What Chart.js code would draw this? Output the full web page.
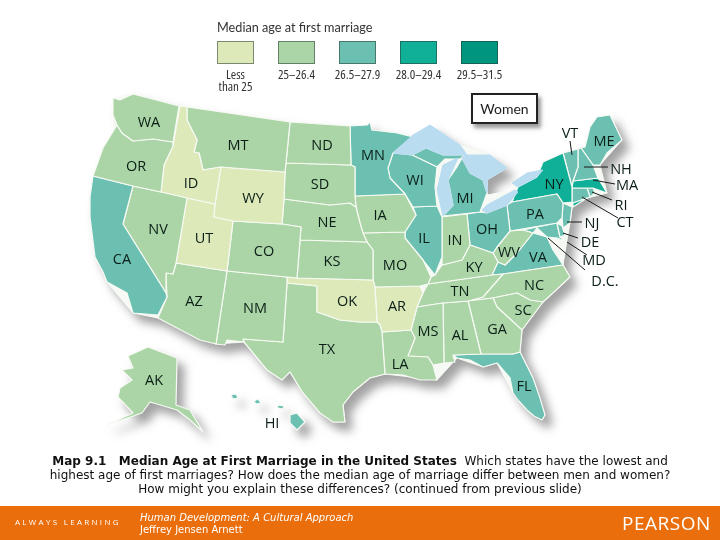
<!DOCTYPE html>
<html>
<head>
<meta charset="utf-8">
<title>Map 9.1</title>
<script src="https://cdn.jsdelivr.net/npm/chart.js@4/dist/chart.umd.min.js"></script>
<style>
html, body { margin: 0; padding: 0; background: #fff; }
#page { position: relative; width: 720px; height: 540px; overflow: hidden; font-family: "Open Sans", sans-serif; color: #1c1c1c; }
#map { position: absolute; left: 0; top: 0; filter: drop-shadow(7px 8px 5px rgba(70,70,70,.5)); }
#lines { position: absolute; left: 0; top: 0; }
.abs { position: absolute; white-space: nowrap; }
.state { font-size: 14.5px; transform: translate(-50%, -50%); color: #0b1f18; }
.swatch { position: absolute; top: 41px; width: 37px; height: 23px; box-sizing: border-box; border: 1px solid rgba(40,60,50,.55); }
.legend-label { font-size: 13px; font-stretch: condensed; line-height: 12px; text-align: center; transform: translateX(-50%); top: 68px; color: #333; }
#women { left: 471px; top: 93px; width: 63px; height: 27px; border: 2px solid #222; background: #fff; box-shadow: 3px 4px 4px rgba(70,70,70,.55); font-family: Lato, sans-serif; font-size: 14px; line-height: 27px; text-align: center; }
#caption { left: 0; width: 720px; top: 454px; text-align: center; font-family: "DejaVu Sans", sans-serif; font-size: 12px; line-height: 14px; color: #111; }
#footer { position: absolute; left: 0; top: 506px; width: 720px; height: 34px; background: #ea6f0c; color: #fff; }
</style>
</head>
<body>
<div id="page">
  <canvas id="map" width="720" height="540"></canvas>
  <canvas id="lines" width="720" height="540"></canvas>
  <div id="women" class="abs">Women</div>
  <div class="abs" style="left:217px;top:19px;font-family:Lato,sans-serif;font-size:12.7px;color:#333">Median age at first marriage</div>
  <div id="caption" class="abs"><b>Map 9.1 &nbsp; Median Age at First Marriage in the United States</b> &nbsp;Which states have the lowest and<br>highest age of first marriages? How does the median age of marriage differ between men and women?<br>How might you explain these differences? (continued from previous slide)</div>
  <div id="footer">
    <div class="abs" style="left:15px;top:9px;font-size:8px;letter-spacing:2.3px;line-height:14px">ALWAYS LEARNING</div>
    <div class="abs" style="left:140px;top:6px;font-family:'DejaVu Sans',sans-serif;font-size:10px;font-style:italic">Human Development: A Cultural Approach</div>
    <div class="abs" style="left:140px;top:18px;font-family:'DejaVu Sans',sans-serif;font-size:10px">Jeffrey Jensen Arnett</div>
    <div class="abs" style="left:622px;top:4px;font-size:19px;letter-spacing:.5px">PEARSON</div>
  </div>
</div>
<script>
// legend
const legendLabels = ["Less\nthan 25", "25–26.4", "26.5–27.9", "28.0–29.4", "29.5–31.5"];
const legendColors = ["#dde9b9", "#abd5a6", "#6bc0b1", "#10af97", "#00957f"];
const lakeColor = "#b9dcf0";

// age class of each state (index into legendColors)
const stateNames = ["WA","OR","CA","NV","ID","MT","WY","UT","AZ","CO","NM","ND","SD","NE","KS","OK","TX","MN","IA","MO","AR","LA","WI","IL","MS","MI","MIU","IN","KY","TN","AL","OH","GA","FL","SC","NC","WV","VA","PA","NY","LI","VT","NH","ME","MA","CT","RI","NJ","DE","MD","AK","HI1","HI2","HI3","HI4"];
const stateClass = [1,1,2,1,0,1,0,0,1,1,1,1,1,1,1,0,1,2,1,1,0,1,2,2,1,2,2,1,1,1,1,2,1,2,1,1,1,2,2,3,3,2,2,2,3,2,2,2,2,2,1,2,2,2,2];

// outlines, map units
const land = [[113,98],[133,94],[179,106],[290,122],[350,126],[367,125],[370,122],[372,130],[397,133],[413,137],[430,125],[460,145],[490,155],[507,168],[487,180],[487,195],[515,190],[512,183],[543,170],[563,153],[585,147],[597,117],[610,115],[622,140],[600,165],[607,193],[587,198],[572,207],[570,223],[567,240],[563,265],[570,277],[543,302],[522,330],[520,352],[533,378],[545,415],[542,420],[513,393],[497,363],[483,367],[457,358],[437,380],[385,374],[370,378],[353,392],[343,405],[345,422],[333,422],[303,393],[290,372],[282,380],[267,370],[244,342],[216,344],[158,318],[133,313],[107,282],[90,217],[93,176],[103,148],[117,125]];
const WA = [[113,98],[120,100],[133,94],[179,106],[173,142],[153,139],[133,141],[122,133],[117,125],[113,115]];
const OR = [[117,125],[122,133],[133,141],[153,139],[173,142],[173,146],[164,165],[161,192],[133,186],[93,176],[103,148]];
const CA = [[93,176],[133,186],[123,224],[166,293],[167,297],[158,315],[133,313],[127,293],[107,282],[103,272],[95,257],[90,217],[90,197]];
const NV = [[133,186],[161,192],[187,198],[176,263],[173,274],[166,273],[166,293],[123,224]];
const ID = [[180,106],[187,107],[187,120],[197,140],[194,152],[199,153],[203,170],[221,167],[215,204],[187,198],[161,192],[164,165],[173,146]];
const MT = [[187,107],[290,122],[286,163],[285,172],[221,167],[203,170],[199,153],[194,152],[197,140],[187,120]];
const WY = [[221,167],[285,172],[284,199],[282,224],[233,221],[214,217],[215,204]];
const UT = [[187,198],[215,204],[214,217],[233,221],[227,271],[176,263]];
const AZ = [[176,263],[227,271],[216,344],[200,340],[158,318],[167,297],[166,273],[173,274]];
const CO = [[233,221],[282,224],[301,227],[300,240],[297,278],[287,277],[227,271]];
const NM = [[227,271],[287,277],[287,283],[283,342],[243,339],[244,342],[227,340],[225,345],[216,344]];
const ND = [[290,122],[350,126],[351,165],[286,163]];
const SD = [[286,163],[351,165],[355,167],[355,196],[356,207],[350,203],[330,205],[284,199],[285,172]];
const NE = [[284,199],[330,205],[350,203],[356,207],[360,223],[363,233],[367,242],[300,240],[301,227],[282,224]];
const KS = [[300,240],[367,242],[373,250],[373,280],[297,278]];
const OK = [[287,277],[297,278],[373,280],[375,287],[377,322],[360,322],[340,320],[320,313],[317,312],[317,286],[287,283]];
const TX = [[287,283],[317,286],[317,312],[320,313],[340,320],[360,322],[377,322],[380,325],[382,332],[383,347],[385,374],[370,378],[353,392],[343,405],[345,422],[333,422],[320,413],[303,393],[290,372],[282,380],[267,370],[244,342],[243,339],[283,342]];
const MN = [[350,126],[367,125],[370,122],[372,130],[397,133],[413,137],[393,153],[388,168],[390,178],[405,194],[355,196],[355,167],[351,165]];
const IA = [[355,196],[405,194],[416,215],[405,232],[363,233],[360,223],[356,207]];
const MO = [[363,233],[405,232],[405,238],[423,260],[431,277],[428,284],[420,286],[375,287],[373,280],[373,250],[367,242]];
const AR = [[375,287],[420,286],[423,293],[417,307],[411,330],[382,332],[380,325],[377,322]];
const LA = [[382,332],[411,330],[415,338],[408,356],[428,357],[433,365],[437,380],[420,380],[403,375],[385,374],[383,347]];
const WI = [[393,153],[412,155],[437,167],[435,187],[437,206],[413,207],[405,194],[390,178],[388,168]];
const IL = [[413,207],[437,206],[442,217],[442,257],[435,275],[423,260],[405,238],[405,232],[416,215]];
const MS = [[417,307],[443,303],[444,363],[433,365],[428,357],[408,356],[415,338],[411,330]];
const MI = [[443,216],[480,212],[487,193],[483,180],[470,173],[462,158],[457,167],[448,180],[453,205]];
const MIU = [[412,155],[426,148],[443,155],[465,155],[460,159],[445,159],[437,167]];
const IN = [[442,217],[467,214],[470,245],[462,260],[442,265],[442,257]];
const KY = [[428,284],[431,277],[435,275],[442,265],[462,260],[470,245],[493,253],[498,262],[492,275]];
const TN = [[428,284],[492,275],[503,274],[483,297],[468,301],[443,303],[417,307],[423,293]];
const AL = [[443,303],[468,301],[481,354],[453,355],[455,362],[444,363]];
const OH = [[467,214],[480,212],[487,213],[507,205],[510,231],[497,247],[493,253],[470,245]];
const GA = [[468,301],[493,298],[497,307],[522,330],[520,352],[513,354],[481,354]];
const FL = [[453,355],[481,354],[513,354],[520,352],[526,364],[533,378],[540,398],[545,415],[542,420],[534,416],[527,410],[518,400],[513,393],[510,378],[497,363],[483,367],[470,360],[457,358]];
const SC = [[493,298],[517,293],[530,300],[543,302],[522,330],[497,307]];
const NC = [[483,297],[503,274],[563,265],[570,277],[553,293],[543,302],[530,300],[517,293],[493,298],[468,301]];
const WV = [[510,231],[523,230],[533,233],[517,253],[505,265],[498,262],[493,253],[497,247]];
const VA = [[492,275],[498,262],[505,265],[517,253],[533,233],[547,237],[553,250],[563,265],[503,274]];
const PA = [[507,205],[512,202],[557,194],[563,203],[562,218],[557,223],[510,231]];
const NY = [[512,202],[518,187],[537,177],[543,162],[563,153],[572,187],[572,202],[563,203],[557,194]];
const LI = [[573,203],[587,198],[573,207]];
const VT = [[563,153],[578,149],[578,167],[573,181],[572,187]];
const NH = [[578,149],[581,148],[593,165],[598,178],[573,181],[578,167]];
const ME = [[581,148],[585,147],[590,127],[597,117],[610,115],[622,140],[607,153],[600,165],[593,165]];
const MA = [[573,181],[598,178],[607,193],[593,188],[572,188]];
const CT = [[572,188],[587,188],[590,197],[573,203],[572,202]];
const RI = [[587,188],[593,188],[595,193],[590,197]];
const NJ = [[563,203],[572,207],[570,223],[563,228],[562,218]];
const DE = [[557,223],[562,226],[565,235],[560,237]];
const MD = [[523,230],[557,223],[560,237],[567,242],[557,238],[547,237],[537,228],[533,233]];
const AK = [[128,356],[148,347],[177,358],[176,405],[190,410],[203,432],[190,420],[177,410],[150,402],[142,413],[107,425],[133,413],[118,397],[120,388],[132,380],[122,370],[133,368]];
const HI1 = [[231,395],[236,394],[238,398],[233,399]];
const HI2 = [[254,401],[258,399],[261,403],[256,404]];
const HI3 = [[277,405],[284,406],[283,409],[278,408]];
const HI4 = [[290,415],[297,413],[305,422],[297,430],[290,423]];
const stateOutlines = [WA,OR,CA,NV,ID,MT,WY,UT,AZ,CO,NM,ND,SD,NE,KS,OK,TX,MN,IA,MO,AR,LA,WI,IL,MS,MI,MIU,IN,KY,TN,AL,OH,GA,FL,SC,NC,WV,VA,PA,NY,LI,VT,NH,ME,MA,CT,RI,NJ,DE,MD,AK,HI1,HI2,HI3,HI4];

const Superior = [[393,153],[413,135],[430,125],[460,145],[467,155],[443,155],[426,148],[412,155]];
const Michigan = [[458,158],[443,165],[437,190],[443,216],[453,205],[448,180]];
const Huron = [[465,155],[490,155],[507,168],[487,180],[487,193],[483,180],[470,173],[462,158]];
const Erie = [[482,210],[487,205],[515,190],[518,192],[507,205],[487,213]];
const Ontario = [[512,183],[527,173],[543,170],[537,177],[518,187]];
const lakes = [Superior, Michigan, Huron, Erie, Ontario];

// leader lines for the small eastern states
const leaderVT = [[570,141],[572,155]];
const leaderNH = [[608,167],[584,167]];
const leaderMA = [[615,184],[593,180]];
const leaderRI = [[612,200],[592,192]];
const leaderCT = [[618,218],[582,197]];
const leaderNJ = [[582,222],[567,222]];
const leaderDE = [[578,238],[563,233]];
const leaderMD = [[587,255],[567,242]];
const leaderDC = [[585,270],[548,238]];
const leaders = [leaderVT,leaderNH,leaderMA,leaderRI,leaderCT,leaderNJ,leaderDE,leaderMD,leaderDC];

// state labels
const labelNames = ["WA","OR","ID","MT","ND","SD","WY","NV","UT","CO","NE","KS","CA","AZ","NM","OK","TX","AR","MO","IA","MN","WI","MI","IL","IN","OH","KY","TN","WV","VA","NC","SC","GA","AL","MS","LA","FL","AK","HI","NY","PA","ME","VT","NH","MA","RI","CT","NJ","DE","MD","D.C."];
const labelX = [149,136,191,238,322,320,253,158,204,264,327,332,122,194,255,347,327,397,395,380,373,415,465,424,455,487,474,460,509,538,534,523,497,460,428,400,524,154,272,554,535,604,570,621,627,621,625,592,590,594,605];
const labelY = [121,165,182,144,144,183,197,228,237,250,221,260,258,300,307,300,348,305,264,214,154,179,197,237,239,228,266,290,251,256,284,309,328,334,330,363,385,379,422,183,213,140,132,168,184,204,221,222,241,259,280];

function toPoints(outline, closed) {
    const pts = outline.map(function (p) { return { x: p[0], y: p[1] }; });
    if (closed) pts.push({ x: outline[0][0], y: outline[0][1] });
    return pts;
}

function shapeDataset(name, outline, fillColor, lineColor, width) {
    return {
        label: name,
        data: toPoints(outline, true),
        showLine: true,
        tension: 0,
        pointRadius: 0,
        borderColor: lineColor,
        borderWidth: width,
        borderJoinStyle: "round",
        backgroundColor: fillColor,
        fill: "shape"
    };
}

function chartOptions() {
    return {
        responsive: false,
        animation: false,
        devicePixelRatio: 1,
        layout: { padding: 0 },
        plugins: { legend: { display: false }, tooltip: { enabled: false }, title: { display: false } },
        scales: {
            x: { type: "linear", min: 0, max: 720, display: false },
            y: { type: "linear", min: 0, max: 540, reverse: true, display: false }
        }
    };
}

// datasets draw in reverse order, so the land underlay goes last
const datasets = [];
lakes.forEach(function (outline, i) {
    datasets.push(shapeDataset("lake" + i, outline, lakeColor, lakeColor, 1));
});
stateOutlines.forEach(function (outline, i) {
    datasets.push(shapeDataset(stateNames[i], outline, legendColors[stateClass[i]], "#f7faf4", 1.2));
});
datasets.push(shapeDataset("land", land, "#f7faf4", "#f7faf4", 1));

const chart = new Chart(document.getElementById("map").getContext("2d"), {
    type: "scatter",
    data: { datasets: datasets },
    options: chartOptions()
});

new Chart(document.getElementById("lines").getContext("2d"), {
    type: "scatter",
    data: {
        datasets: leaders.map(function (line, i) {
            return { label: "leader" + i, data: toPoints(line, false), showLine: true, pointRadius: 0, borderColor: "#1a1a1a", borderWidth: 1, fill: false };
        })
    },
    options: chartOptions()
});

// real text labels, placed with the chart's scales
const page = document.getElementById("page");
labelNames.forEach(function (name, i) {
    const el = document.createElement("div");
    el.className = "abs state";
    el.textContent = name;
    el.style.left = chart.scales.x.getPixelForValue(labelX[i]) + "px";
    el.style.top = chart.scales.y.getPixelForValue(labelY[i]) + "px";
    page.appendChild(el);
});

// legend row
const swatchLeft = [217, 278, 339, 400, 461];
legendLabels.forEach(function (text, i) {
    const sw = document.createElement("div");
    sw.className = "swatch";
    sw.style.left = swatchLeft[i] + "px";
    sw.style.background = legendColors[i];
    page.appendChild(sw);
    const lab = document.createElement("div");
    lab.className = "abs legend-label";
    lab.style.left = (swatchLeft[i] + 18.5) + "px";
    lab.innerHTML = text.replace("\n", "<br>");
    page.appendChild(lab);
});
</script>
</body>
</html>
